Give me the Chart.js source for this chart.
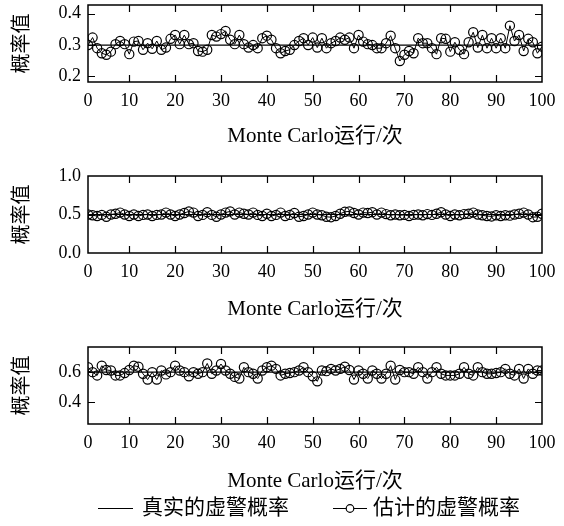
<!DOCTYPE html>
<html>
<head>
<meta charset="utf-8">
<script src="https://cdn.jsdelivr.net/npm/chart.js@4.4.1/dist/chart.umd.min.js"></script>
<style>
  html, body { margin: 0; padding: 0; background: #fff; }
  body { width: 564px; height: 526px; position: relative; overflow: hidden; }
  .wrap { position: absolute; left: 0; width: 564px; }
</style>
</head>
<body>
<div class="wrap" id="w1" style="top:-15px;height:164px"><canvas id="c1"></canvas></div>
<div class="wrap" id="w2" style="top:156px;height:166px"><canvas id="c2"></canvas></div>
<div class="wrap" id="w3" style="top:327px;height:199px"><canvas id="c3"></canvas></div>
<script>
// ---------------- data ----------------
const runs = Array.from({length: 100}, (_, i) => i + 1);   // Monte Carlo run index

const xTickValues = [1, 10, 20, 30, 40, 50, 60, 70, 80, 90, 100];
const xTickLabels = ['0', '10', '20', '30', '40', '50', '60', '70', '80', '90', '100'];

const yTicks1 = [0.2, 0.3, 0.4];
const yTickLabels1 = ['0.2', '0.3', '0.4'];
const yTicks2 = [0.0, 0.5, 1.0];
const yTickLabels2 = ['0.0', '0.5', '1.0'];
const yTicks3 = [0.4, 0.6];
const yTickLabels3 = ['0.4', '0.6'];

const trueP1 = 0.3;
const trueP2 = 0.5;
const trueP3 = 0.6;

const est1 = [
  0.300,0.324,0.290,0.274,0.269,0.279,0.303,0.313,0.303,0.271,
  0.311,0.313,0.285,0.306,0.288,0.313,0.285,0.292,0.320,0.332,
  0.303,0.332,0.303,0.306,0.281,0.279,0.285,0.332,0.327,0.335,
  0.345,0.317,0.303,0.332,0.303,0.292,0.300,0.290,0.322,0.330,
  0.317,0.290,0.274,0.281,0.285,0.300,0.313,0.322,0.300,0.324,
  0.292,0.322,0.290,0.306,0.313,0.324,0.317,0.324,0.290,0.332,
  0.311,0.303,0.300,0.290,0.290,0.306,0.330,0.290,0.249,0.269,
  0.281,0.274,0.322,0.306,0.306,0.290,0.271,0.322,0.320,0.279,
  0.309,0.285,0.271,0.309,0.341,0.292,0.332,0.290,0.322,0.290,
  0.322,0.290,0.362,0.313,0.332,0.281,0.320,0.309,0.274,0.295
];

const est2 = [
  0.500,0.490,0.480,0.495,0.470,0.500,0.510,0.525,0.500,0.480,
  0.500,0.480,0.495,0.500,0.480,0.495,0.500,0.525,0.500,0.480,
  0.500,0.520,0.540,0.525,0.480,0.495,0.530,0.495,0.470,0.500,
  0.525,0.540,0.500,0.525,0.510,0.500,0.525,0.495,0.480,0.510,
  0.480,0.495,0.525,0.480,0.495,0.520,0.470,0.480,0.500,0.525,
  0.500,0.490,0.470,0.465,0.480,0.510,0.535,0.540,0.520,0.500,
  0.525,0.520,0.530,0.500,0.525,0.505,0.490,0.500,0.490,0.495,
  0.480,0.495,0.500,0.490,0.505,0.495,0.510,0.530,0.500,0.480,
  0.500,0.490,0.505,0.510,0.525,0.500,0.490,0.480,0.475,0.490,
  0.480,0.490,0.485,0.500,0.510,0.525,0.500,0.465,0.470,0.510
];

const est3 = [
  0.633,0.600,0.578,0.644,0.615,0.611,0.578,0.578,0.594,0.615,
  0.644,0.637,0.589,0.550,0.600,0.550,0.611,0.585,0.600,0.644,
  0.611,0.600,0.572,0.600,0.589,0.600,0.659,0.589,0.611,0.655,
  0.611,0.589,0.568,0.557,0.633,0.600,0.589,0.557,0.611,0.633,
  0.644,0.622,0.578,0.589,0.594,0.600,0.611,0.633,0.600,0.572,
  0.538,0.611,0.607,0.622,0.611,0.622,0.637,0.615,0.550,0.611,
  0.589,0.557,0.611,0.589,0.557,0.589,0.644,0.550,0.615,0.600,
  0.600,0.589,0.633,0.600,0.557,0.600,0.633,0.589,0.578,0.578,
  0.578,0.589,0.633,0.589,0.578,0.633,0.600,0.589,0.589,0.594,
  0.600,0.622,0.589,0.578,0.622,0.557,0.622,0.589,0.611,0.611
];

const xTitle = 'Monte Carlo运行/次';
const yTitle = '概率值';
const legendTrue = '真实的虚警概率';
const legendEst = '估计的虚警概率';

// ---------------- styling helpers ----------------
const SERIF = "'Liberation Serif', 'Times New Roman', 'Noto Sans CJK SC', serif";
Chart.defaults.color = '#000';
Chart.defaults.animation = false;

const framePlugin = {
  id: 'frame',
  afterDatasetsDraw(chart) {
    const {ctx, chartArea: {left, right, top, bottom}, scales: {x, y}} = chart;
    ctx.save();
    ctx.strokeStyle = '#000';
    ctx.lineWidth = 1.5;
    ctx.strokeRect(left, top, right - left, bottom - top);
    ctx.lineWidth = 1.2;
    const L = 7;
    ctx.beginPath();
    x.ticks.forEach(t => {
      const px = Math.round(x.getPixelForValue(t.value)) + 0.5;
      if (px <= left + 2 || px >= right - 2) return;
      ctx.moveTo(px, bottom); ctx.lineTo(px, bottom - L);
      ctx.moveTo(px, top); ctx.lineTo(px, top + L);
    });
    y.ticks.forEach(t => {
      const py = Math.round(y.getPixelForValue(t.value)) + 0.5;
      if (py <= top + 2 || py >= bottom - 2) return;
      ctx.moveTo(left, py); ctx.lineTo(left + L, py);
      ctx.moveTo(right, py); ctx.lineTo(right - L, py);
    });
    ctx.stroke();
    ctx.restore();
  }
};

const legendPlugin = {
  id: 'bottomLegend',
  afterDraw(chart, args, opts) {
    if (!opts || !opts.show) return;
    const ctx = chart.ctx;
    const cy = opts.y;
    ctx.save();
    ctx.strokeStyle = '#000';
    ctx.lineWidth = 1.2;
    ctx.beginPath();
    ctx.moveTo(98, cy); ctx.lineTo(133, cy);
    ctx.moveTo(333, cy); ctx.lineTo(367, cy);
    ctx.stroke();
    ctx.beginPath();
    ctx.arc(350, cy, 3.8, 0, Math.PI * 2);
    ctx.fillStyle = '#fff';
    ctx.fill();
    ctx.stroke();
    ctx.fillStyle = '#000';
    ctx.font = "21px " + SERIF;
    ctx.textBaseline = 'middle';
    ctx.textAlign = 'left';
    ctx.fillText(legendTrue, 142, cy);
    ctx.fillText(legendEst, 373, cy);
    ctx.restore();
  }
};

function makeChart(id, est, trueVal, yMin, yMax, yTicks, yTickLabels, xAxisHeight, padBottom, legendOpts) {
  const ctx = document.getElementById(id);
  return new Chart(ctx, {
    type: 'line',
    data: {
      labels: runs,
      datasets: [
        {
          label: legendTrue,
          data: runs.map(r => ({x: r, y: trueVal})),
          borderColor: '#000',
          borderWidth: 1.2,
          pointRadius: 0,
          fill: false,
          tension: 0
        },
        {
          label: legendEst,
          data: runs.map((r, i) => ({x: r, y: est[i]})),
          borderColor: '#000',
          borderWidth: 1,
          pointRadius: 4.6,
          pointBorderWidth: 1.2,
          pointBorderColor: '#000',
          pointBackgroundColor: 'rgba(255,255,255,0)',
          pointStyle: 'circle',
          fill: false,
          tension: 0
        }
      ]
    },
    options: {
      responsive: true,
      maintainAspectRatio: false,
      animation: false,
      events: [],
      layout: { padding: { left: 11, right: 22, top: 20, bottom: padBottom } },
      plugins: {
        legend: { display: false },
        tooltip: { enabled: false },
        bottomLegend: legendOpts || { show: false }
      },
      scales: {
        x: {
          type: 'linear',
          min: 1,
          max: 100,
          grid: { display: false, drawTicks: false },
          border: { display: false },
          afterBuildTicks: s => { s.ticks = xTickValues.map(v => ({value: v})); },
          afterFit: s => { s.height = xAxisHeight; },
          ticks: {
            padding: 8,
            maxRotation: 0,
            autoSkip: false,
            font: { family: SERIF, size: 18 },
            color: '#000',
            callback: v => xTickLabels[xTickValues.indexOf(v)]
          },
          title: {
            display: true,
            text: xTitle,
            font: { family: SERIF, size: 21 },
            color: '#000',
            padding: { top: 0, bottom: 0 }
          }
        },
        y: {
          type: 'linear',
          min: yMin,
          max: yMax,
          grid: { display: false, drawTicks: false },
          border: { display: false },
          afterBuildTicks: s => { s.ticks = yTicks.map(v => ({value: v})); },
          afterFit: s => { s.width = 77; },
          ticks: {
            padding: 7,
            font: { family: SERIF, size: 18 },
            color: '#000',
            callback: v => yTickLabels[yTicks.indexOf(v)]
          },
          title: {
            display: true,
            text: yTitle,
            font: { family: SERIF, size: 20 },
            color: '#000',
            padding: { top: 0, bottom: 0 }
          }
        }
      }
    },
    plugins: [framePlugin, legendPlugin]
  });
}

makeChart('c1', est1, trueP1, 0.182, 0.428, yTicks1, yTickLabels1, 67, 0);
makeChart('c2', est2, trueP2, 0.0, 1.0, yTicks2, yTickLabels2, 69, 0);
makeChart('c3', est3, trueP3, 0.25, 0.77, yTicks3, yTickLabels3, 70, 32, { show: true, y: 181.5 });
</script>
</body>
</html>
